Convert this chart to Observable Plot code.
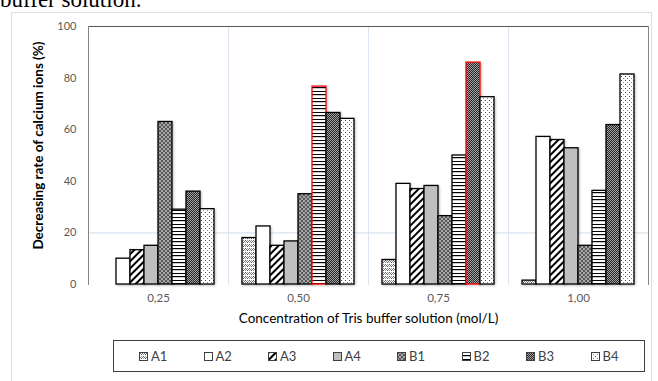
<!DOCTYPE html>
<html>
<head>
<meta charset="utf-8">
<script src="https://cdn.jsdelivr.net/npm/d3@7"></script>
<script src="https://cdn.jsdelivr.net/npm/@observablehq/plot@0.6"></script>
<style>
  html, body { margin: 0; padding: 0; background: #fff; }
  #wrap { position: relative; width: 658px; height: 381px; overflow: hidden; font-family: Lato, "Open Sans", sans-serif; }
  #caption { position: absolute; left: 0; top: -12px; font-family: "Liberation Serif", serif; font-size: 23px; line-height: 23px; color: #000; white-space: nowrap; }
  #border { position: absolute; left: 11px; top: 12px; width: 641px; height: 420px; border: 1px solid #d9dde4; box-sizing: border-box; }
  #chart { position: absolute; left: 0; top: 0; }
  #chart g[aria-label="bar"] rect { filter: drop-shadow(1px 1px 1px rgba(0,0,0,0.25)); }
  #legend { position: absolute; left: 113px; top: 340px; width: 532px; height: 32px; border: 1px solid #404040; box-sizing: border-box;
            display: flex; align-items: center; justify-content: flex-start; padding-left: 25px; font-size: 13px; color: #404040; }
  .item { display: flex; align-items: center; width: 64.5px; flex: none; }
  .item svg { margin-right: 3px; }
</style>
</head>
<body>
<div id="wrap">
  <div id="caption">buffer solution.</div>
  <div id="border"></div>
  <div id="chart"></div>
  <div id="legend"></div>
</div>
<script>
// ---- data ----
const concentrations = ["0,25", "0,50", "0,75", "1,00"];
const series = ["A1", "A2", "A3", "A4", "B1", "B2", "B3", "B4"];
const A1 = [0, 18, 9.5, 1.5];
const A2 = [10, 22.5, 39, 57.2];
const A3 = [13.3, 15, 37, 56];
const A4 = [15, 16.7, 38.2, 52.8];
const B1 = [63, 35, 26.5, 15];
const B2 = [29, 76.7, 50, 36.3];
const B3 = [36, 66.5, 86, 61.8];
const B4 = [29.2, 64.2, 72.6, 81.4];
const highlighted = [["0,50", "B2"], ["0,75", "B3"]];
const yTicks = [0, 20, 40, 60, 80, 100];
const yTitle = "Decreasing rate of calcium ions (%)";
const xTitle = "Concentration of Tris buffer solution (mol/L)";

const valuesBySeries = {A1, A2, A3, A4, B1, B2, B3, B4};
const data = concentrations.flatMap((c, i) =>
  series.map(s => ({conc: c, series: s, value: valuesBySeries[s][i]})));
const isHi = d => highlighted.some(([c, s]) => c === d.conc && s === d.series);

// ---- patterns ----
const patternDefs = `
<defs>
  <pattern id="pat-A1" patternUnits="userSpaceOnUse" width="4" height="4">
    <rect width="4" height="4" fill="#fff"/>
    <rect x="0" y="0" width="1" height="1" fill="#555"/>
    <rect x="2" y="0" width="1" height="1" fill="#999"/>
    <rect x="1" y="1" width="1" height="1" fill="#777"/>
    <rect x="3" y="1" width="1" height="1" fill="#777"/>
    <rect x="0" y="2" width="1" height="1" fill="#999"/>
    <rect x="2" y="2" width="1" height="1" fill="#555"/>
  </pattern>
  <pattern id="pat-A2" patternUnits="userSpaceOnUse" width="4" height="4">
    <rect width="4" height="4" fill="#fff"/>
  </pattern>
  <pattern id="pat-A3" patternUnits="userSpaceOnUse" width="5" height="5" patternTransform="rotate(45)">
    <rect width="5" height="5" fill="#fff"/>
    <rect x="0" y="0" width="2" height="5" fill="#000"/>
  </pattern>
  <pattern id="pat-A4" patternUnits="userSpaceOnUse" width="4" height="4">
    <rect width="4" height="4" fill="#bfbfbf"/>
  </pattern>
  <pattern id="pat-B1" patternUnits="userSpaceOnUse" width="4" height="4">
    <rect width="4" height="4" fill="#a6a6a6"/>
    <rect x="0" y="0" width="2" height="2" fill="#595959"/>
    <rect x="2" y="2" width="2" height="2" fill="#595959"/>
  </pattern>
  <pattern id="pat-B2" patternUnits="userSpaceOnUse" width="4" height="7">
    <rect width="4" height="7" fill="#fff"/>
    <rect x="0" y="0" width="4" height="1" fill="#000"/>
    <rect x="0" y="3" width="4" height="1.2" fill="#000"/>
  </pattern>
  <pattern id="pat-B3" patternUnits="userSpaceOnUse" width="2" height="2">
    <rect width="2" height="2" fill="#a0a0a0"/>
    <rect x="0" y="0" width="1" height="1" fill="#2a2a2a"/>
    <rect x="1" y="1" width="1" height="1" fill="#2a2a2a"/>
  </pattern>
  <pattern id="pat-B4" patternUnits="userSpaceOnUse" width="4" height="4">
    <rect width="4" height="4" fill="#fff"/>
    <rect x="0" y="0" width="1" height="1" fill="#444"/>
    <rect x="2" y="2" width="1" height="1" fill="#888"/>
  </pattern>
</defs>`;

// ---- chart ----
const chart = Plot.plot({
  width: 658,
  height: 335,
  marginLeft: 87,
  marginRight: 10,
  marginTop: 26,
  marginBottom: 51,
  style: {fontFamily: "Lato, 'Open Sans', sans-serif", fontSize: "11px", color: "#595959", background: "transparent", overflow: "visible"},
  fx: {domain: concentrations, padding: 0, label: null},
  x: {domain: series, paddingInner: 0, paddingOuter: 0.76, axis: null},
  y: {domain: [0, 100]},
  color: {type: "identity"},
  marks: [
    Plot.frame({anchor: "left", stroke: "#dce6f2"}),
    Plot.ruleY([20], {stroke: "#cfdcec"}),
    Plot.barY(data, {
      fx: "conc", x: "series", y: "value",
      fill: d => `url(#pat-${d.series})`,
      stroke: d => isHi(d) ? "#ff0000" : "#000000",
      strokeWidth: 1.3
    }),
    Plot.ruleY([100], {stroke: "#595959", strokeWidth: 1.2}),
    Plot.frame({anchor: "left", stroke: "#868686", facet: "super"}),
    Plot.frame({anchor: "right", stroke: "#868686", facet: "super"}),
    Plot.axisY({ticks: yTicks, tickSize: 0, tickPadding: 12, label: null, fontSize: 11}),
    Plot.axisFx({anchor: "bottom", tickSize: 0, tickPadding: 9, label: null, fontSize: 11.5}),
    Plot.text([yTitle], {facet: "super", frameAnchor: "left", textAnchor: "middle", rotate: -90, dx: -50, dy: -10, fontWeight: "bold", fill: "#000", fontSize: 13.5}),
    Plot.text([xTitle], {facet: "super", frameAnchor: "bottom", textAnchor: "middle", dy: 38, fill: "#000", fontSize: 13.5})
  ]
});
chart.insertAdjacentHTML("afterbegin", patternDefs);
document.getElementById("chart").appendChild(chart);

// ---- legend ----
const legend = d3.select("#legend");
for (const s of series) {
  const item = legend.append("div").attr("class", "item");
  const sw = item.append("svg").attr("width", 9).attr("height", 9);
  sw.append("rect").attr("x", 0.5).attr("y", 0.5).attr("width", 8).attr("height", 8)
    .attr("fill", `url(#pat-${s})`).attr("stroke", "#404040").attr("stroke-width", 1);
  item.append("span").text(s);
}
</script>
</body>
</html>
